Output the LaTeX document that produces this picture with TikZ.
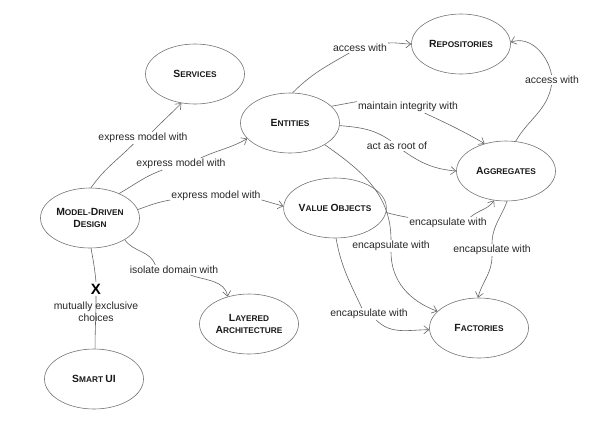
\documentclass[tikz,border=0pt]{standalone}
\usepackage{fontspec}
\setmainfont{Liberation Sans}
\usetikzlibrary{shapes.geometric,arrows.meta}
\newcommand\scx[2]{{\fontsize{10.4}{12.5}\selectfont #1}{\fontsize{8.3}{12.5}\selectfont #2}}
\begin{document}
\begin{tikzpicture}[x=1pt,y=1pt,
 concept/.style={draw=black!55, line width=0.6pt, ellipse, minimum width=99pt, minimum height=60pt, inner sep=0pt, font=\bfseries, text=black!90, align=center},
 lbl/.style={font=\fontsize{10.4}{12}\selectfont, text=black!85, inner sep=1pt},
 edge/.style={draw=black!60, line width=0.6pt, -{Straight Barb[length=5pt,width=8pt]}},
 plain/.style={draw=black!60, line width=0.6pt}]
\useasboundingbox (0,0) rectangle (597,-421);

% concepts
\node[concept] (services) at (195,-74) {\scx{S}{ERVICES}};
\node[concept] (entities) at (290,-123) {\scx{E}{NTITIES}};
\node[concept] (repos) at (461,-44) {\scx{R}{EPOSITORIES}};
\node[concept] (aggregates) at (506,-171) {\scx{A}{GGREGATES}};
\node[concept] (mdd) at (90,-218) {\scx{M}{ODEL-}\scx{D}{RIVEN}\\\scx{D}{ESIGN}};
\node[concept] (vo) at (335,-208) {\scx{V}{ALUE }\scx{O}{BJECTS}};
\node[concept] (layered) at (249,-324) {\scx{L}{AYERED}\\\scx{A}{RCHITECTURE}};
\node[concept] (smartui) at (94,-379) {\scx{S}{MART }\scx{UI}{}};
\node[concept] (factories) at (479,-328) {\scx{F}{ACTORIES}};

% labels
\node[lbl] (l1) at (143,-138) {express model with};
\node[lbl] (l2) at (181,-164) {express model with};
\node[lbl] (l3) at (216,-196) {express model with};
\node[lbl] (l4) at (174,-270) {isolate domain with};
\node[lbl] (l6) at (360,-48) {access with};
\node[lbl] (l7) at (408,-107) {maintain integrity with};
\node[lbl] (l8) at (397,-146) {act as root of};
\node[lbl] (l9) at (552,-80) {access with};
\node[lbl] (l10) at (391,-246) {encapsulate with};
\node[lbl] (l11) at (448,-223) {encapsulate with};
\node[lbl] (l12) at (492,-250) {encapsulate with};
\node[lbl] (l13) at (369,-314) {encapsulate with};
\node[font=\bfseries\fontsize{15}{15}\selectfont, inner sep=1.5pt] (xmark) at (96,-289) {X};
\node[lbl, align=center] (mutex) at (96,-312) {mutually exclusive\\choices};

% connectors
\draw[edge] (mdd.88) to[out=55,in=-135] (l1.-148) (l1.34) to[out=45,in=-135] (services.-115);
\draw[edge] (mdd.40) to[out=30,in=-160] (l2.-162) (l2.17) to[out=25,in=-150] (entities.-160);
\draw[edge] (mdd.10) to[out=20,in=-170] (l3.-175) (l3.-5) to[out=-15,in=165] (vo.178);
\draw[edge] (mdd.-32) to[out=-55,in=110] (l4.165) (l4.-17) to[out=-20,in=100] (layered.128);
\draw[plain] (mdd.-88) to[out=-80,in=95] (xmark.north) (xmark.south) to[out=-90,in=90] (smartui.88);
\draw[edge] (entities.85) to[out=45,in=-150] (l6.-155) (l6.10) to[out=5,in=180] (repos.180);
\draw[edge] (entities.22) to[out=10,in=-170] (l7.174) (l7.-20) to[out=-25,in=150] (aggregates.128);
\draw[edge] (entities.-3) to[out=-5,in=145] (l8.140) (l8.-37) to[out=-35,in=175] (aggregates.180);
\draw[edge] (aggregates.72) to[out=60,in=-100] (l9.-95) (l9.95) to[out=100,in=20] (repos.2);
\draw[edge] (entities.-32) to[out=-35,in=90] (l10.north) (l10.south) to[out=-90,in=160] (factories.158);
\draw[edge] (vo.-5) to[out=-15,in=170] (l11.172) (l11.15) to[out=40,in=-125] (aggregates.-112);
\draw[edge] (aggregates.-88) to[out=-110,in=90] (l12.north) (l12.south) to[out=-90,in=75] (factories.92);
\draw[edge] (vo.-88) to[out=-80,in=115] (l13.140) (l13.-40) to[out=-45,in=180] (factories.182);
\end{tikzpicture}
\end{document}
